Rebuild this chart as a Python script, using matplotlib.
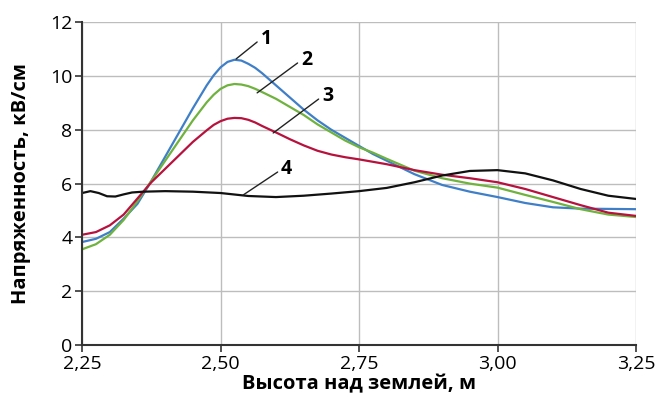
import matplotlib
matplotlib.use("Agg")
import matplotlib.pyplot as plt
from matplotlib.ticker import FuncFormatter

plt.rcParams['font.family'] = ['Open Sans', 'DejaVu Sans']

# кривая 1 (синяя)
x1 = [2.25, 2.275, 2.30, 2.325, 2.35, 2.375, 2.40, 2.425, 2.45, 2.475, 2.4875, 2.50,
      2.5125, 2.525, 2.5375, 2.55, 2.5625, 2.575, 2.60, 2.625, 2.65, 2.675, 2.70,
      2.725, 2.75, 2.775, 2.80, 2.85, 2.90, 2.95, 3.00, 3.05, 3.10, 3.15, 3.20, 3.25]
y1 = [3.83, 3.95, 4.2, 4.7, 5.25, 6.1, 7.0, 7.9, 8.8, 9.65, 10.02, 10.32,
      10.52, 10.6, 10.57, 10.45, 10.3, 10.1, 9.65, 9.2, 8.75, 8.35, 8.0,
      7.7, 7.4, 7.1, 6.85, 6.35, 5.95, 5.7, 5.5, 5.28, 5.12, 5.07, 5.06, 5.05]

# кривая 2 (зеленая)
x2 = x1
y2 = [3.56, 3.75, 4.1, 4.65, 5.35, 6.1, 6.85, 7.6, 8.35, 9.02, 9.3, 9.52,
      9.65, 9.7, 9.68, 9.62, 9.52, 9.4, 9.15, 8.85, 8.55, 8.2, 7.9,
      7.6, 7.35, 7.15, 6.92, 6.48, 6.2, 6.0, 5.85, 5.58, 5.32, 5.05, 4.85, 4.76]

# кривая 3 (красная)
x3 = x1
y3 = [4.1, 4.2, 4.45, 4.85, 5.45, 6.05, 6.55, 7.05, 7.55, 7.98, 8.18, 8.32,
      8.41, 8.44, 8.43, 8.37, 8.27, 8.14, 7.9, 7.65, 7.42, 7.22, 7.08,
      6.98, 6.9, 6.81, 6.72, 6.5, 6.33, 6.2, 6.05, 5.8, 5.5, 5.2, 4.92, 4.8]

# кривая 4 (черная)
x4 = [2.25, 2.265, 2.28, 2.295, 2.31, 2.325, 2.34, 2.36, 2.40, 2.45, 2.50, 2.55,
      2.60, 2.65, 2.70, 2.75, 2.80, 2.85, 2.90, 2.95, 3.00, 3.05, 3.10, 3.15,
      3.20, 3.25]
y4 = [5.65, 5.72, 5.65, 5.53, 5.52, 5.6, 5.67, 5.7, 5.72, 5.7, 5.65, 5.54,
      5.5, 5.55, 5.63, 5.72, 5.84, 6.05, 6.3, 6.47, 6.5, 6.38, 6.12, 5.8,
      5.55, 5.43]

labels = ['1', '2', '3', '4']
# точка на кривой -> конец выноски
label_pts = [(2.528, 10.63), (2.566, 9.37), (2.595, 7.88), (2.541, 5.58)]
label_ends = [(2.566, 11.26), (2.639, 10.48), (2.677, 9.14), (2.603, 6.43)]

fig = plt.figure(figsize=(6.57, 3.94), dpi=100)
ax = fig.add_axes([0.125, 0.124, 0.843, 0.82])

ax.plot(x1, y1, color='#3f7fc8', lw=1.6)
ax.plot(x2, y2, color='#6fb23e', lw=1.6)
ax.plot(x3, y3, color='#b7123e', lw=1.6)
ax.plot(x4, y4, color='#111111', lw=1.6)

for lab, pt, end in zip(labels, label_pts, label_ends):
    ax.annotate('', xy=pt, xytext=end,
                arrowprops=dict(arrowstyle='-', color='#222222', lw=1.0,
                                shrinkA=0, shrinkB=0))
    ax.text(end[0] + 0.006, end[1] + 0.1, lab, fontsize=14, fontweight='bold',
            ha='left', va='center')

ax.set_xlim(2.25, 3.25)
ax.set_ylim(0, 12)
ax.set_xticks([2.25, 2.50, 2.75, 3.00, 3.25])
ax.set_yticks([0, 2, 4, 6, 8, 10, 12])
ax.xaxis.set_major_formatter(FuncFormatter(lambda v, p: f'{v:.2f}'.replace('.', ',')))
ax.grid(True, color='#bdbdbd', lw=1.0)
ax.set_axisbelow(True)

ax.spines['top'].set_visible(False)
ax.spines['right'].set_visible(False)
ax.spines['left'].set_color('#333333')
ax.spines['bottom'].set_color('#333333')
ax.spines['left'].set_linewidth(1.5)
ax.spines['bottom'].set_linewidth(1.5)
ax.tick_params(direction='out', length=5, width=1.2, color='#333333',
               labelsize=14, pad=2)

ax.set_xlabel('Высота над землей, м', fontsize=14.5, fontweight='bold', labelpad=1)
ax.set_ylabel('Напряженность, кВ/см', fontsize=14.5, fontweight='bold', labelpad=14)

plt.savefig('out.png', dpi=100)
